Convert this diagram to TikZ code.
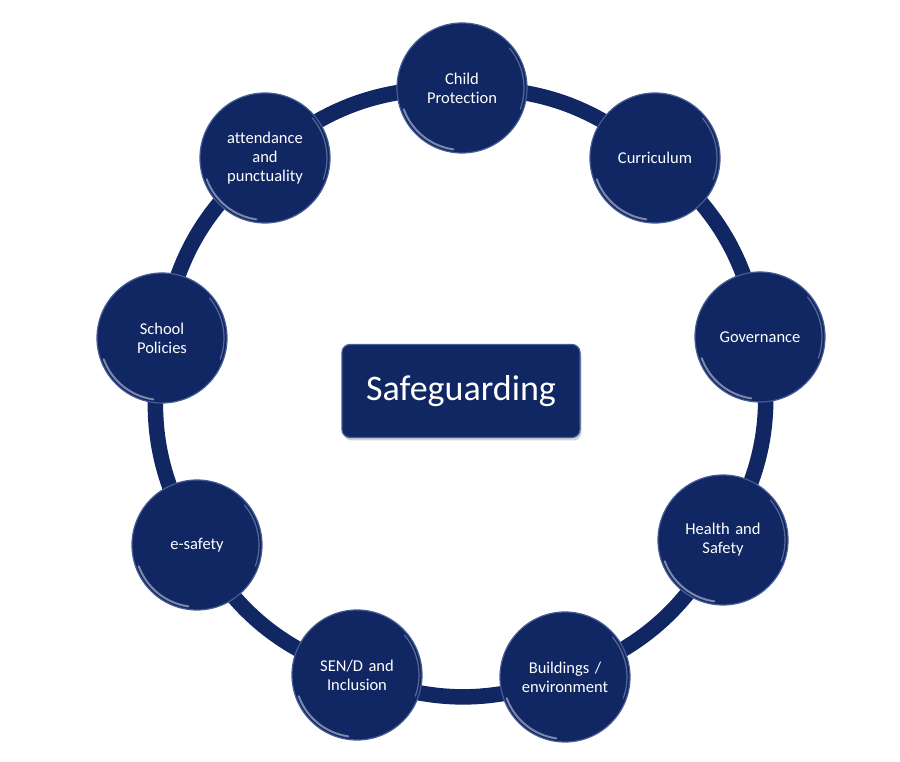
\documentclass[tikz,border=0pt]{standalone}
\usepackage{fontspec}
\setmainfont{Carlito}[Ligatures=NoCommon]
\usetikzlibrary{shadows}
\pgfdeclarelayer{background}
\pgfsetlayers{background,main}
\definecolor{navy}{RGB}{17,39,99}
\definecolor{rim}{RGB}{70,92,150}
\tikzset{
  ball/.style={circle, minimum size=130pt, inner sep=0pt, fill=navy, draw=rim,
    line width=1.2pt, text=white, align=center, text width=112pt,
    font=\fontsize{16.5}{19}\selectfont,
    path picture={
      \draw[white, opacity=0.45, line width=2pt, line cap=round]
        ([shift={(200:62pt)}]path picture bounding box.center)
        arc[start angle=200, end angle=262, radius=62pt];
      \draw[white, opacity=0.3, line width=1.2pt, line cap=round]
        ([shift={(-20:62pt)}]path picture bounding box.center)
        arc[start angle=-20, end angle=40, radius=62pt];
    }},
  ringline/.style={draw=navy, line width=15.5pt},
  titlebox/.style={rectangle, rounded corners=8pt, fill=navy, draw=rim,
    line width=1.2pt, minimum width=238pt, minimum height=93pt, text=white,
    font=\fontsize{36}{40}\selectfont,
    drop shadow={opacity=0.35, shadow xshift=1.5pt, shadow yshift=-3pt}}
}
\begin{document}
\begin{tikzpicture}[x=1pt,y=1pt]
\useasboundingbox (0,0) rectangle (900,762);
\node[titlebox] (sg) at (461,371) {Safeguarding};
\node[ball] (cp)  at (462,674) {Child\\Protection};
\node[ball] (cur) at (655,604) {Curriculum};
\node[ball] (gov) at (760,425) {Governance};
\node[ball] (hs)  at (723,222) {Health and\\Safety};
\node[ball] (bld) at (565,85)  {Buildings /\\environment};
\node[ball] (sen) at (357,87)  {SEN/D and\\Inclusion};
\node[ball] (es)  at (197,217) {e-safety};
\node[ball] (sp)  at (162,424) {School\\Policies};
\node[ball] (att) at (265,604) {attendance\\and\\punctuality};
\begin{pgfonlayer}{background}
\fill[white] (0,0) rectangle (900,762);
\draw[ringline] (cp.center) to[bend left=20] (cur.center);
\draw[ringline] (cur.center) to[bend left=20] (gov.center);
\draw[ringline] (gov.center) to[bend left=20] (hs.center);
\draw[ringline] (hs.center) to[bend left=20] (bld.center);
\draw[ringline] (bld.center) to[bend left=20] (sen.center);
\draw[ringline] (sen.center) to[bend left=20] (es.center);
\draw[ringline] (es.center) to[bend left=20] (sp.center);
\draw[ringline] (sp.center) to[bend left=20] (att.center);
\draw[ringline] (att.center) to[bend left=20] (cp.center);
\end{pgfonlayer}
\end{tikzpicture}
\end{document}
